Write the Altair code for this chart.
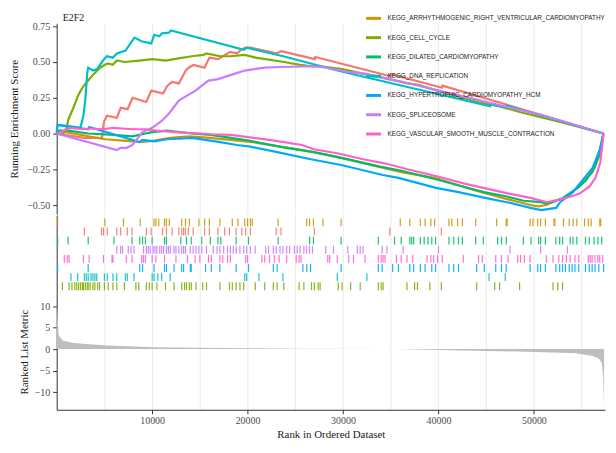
import altair as alt
import pandas as pd

X_MAX = 57450
GRID_VALUES = [5000, 10000, 15000, 20000, 25000, 30000, 35000, 40000, 45000, 50000, 55000]

SET_NAMES = [
    "UNLABELLED_SET",
    "KEGG_ARRHYTHMOGENIC_RIGHT_VENTRICULAR_CARDIOMYOPATHY",
    "KEGG_CELL_CYCLE",
    "KEGG_DILATED_CARDIOMYOPATHY",
    "KEGG_DNA_REPLICATION",
    "KEGG_HYPERTROPHIC_CARDIOMYOPATHY_HCM",
    "KEGG_SPLICEOSOME",
    "KEGG_VASCULAR_SMOOTH_MUSCLE_CONTRACTION",
]
SET_COLORS = ["#F8766D", "#CD9600", "#7CAE00", "#00BE67", "#00BFC4", "#00A9FF", "#C77CFF", "#FF61CC"]
LEGEND_NAMES = SET_NAMES[1:]
RUG_ORDER = [SET_NAMES[1], SET_NAMES[0], SET_NAMES[3], SET_NAMES[6], SET_NAMES[7], SET_NAMES[5], SET_NAMES[4], SET_NAMES[2]]

# running enrichment score curves (rank, score)
ES_UNLABELLED_RANK = [0, 2890, 4750, 4950, 5260, 6300, 6710, 7430, 7950, 9390, 9910, 11150, 11560, 12070, 12800, 13520, 13830, 14340, 15480, 16000, 16920, 17650, 18160, 18890, 19400, 19810, 20330, 23010, 23530, 27040, 27100, 34980, 35050, 40350, 40420, 57280]
ES_UNLABELLED = [0, -0.03, -0.03, 0.08, 0.125, 0.11, 0.18, 0.17, 0.25, 0.22, 0.30, 0.28, 0.33, 0.36, 0.35, 0.44, 0.46, 0.48, 0.46, 0.53, 0.52, 0.55, 0.57, 0.56, 0.59, 0.60, 0.60, 0.56, 0.575, 0.52, 0.535, 0.40, 0.415, 0.32, 0.335, 0]

ES_ARRHYTH_RANK = [0, 100, 5060, 7020, 8770, 10220, 11870, 13930, 16000, 18990, 20540, 23220, 26940, 29820, 36120, 39630, 42520, 43960, 46130, 47270, 49640, 50460, 51290, 52330, 53150, 54590, 55420, 56140, 57070, 57280]
ES_ARRHYTH = [0, 0.02, -0.04, -0.05, -0.06, -0.05, -0.03, -0.02, -0.03, -0.05, -0.06, -0.09, -0.13, -0.17, -0.27, -0.31, -0.37, -0.40, -0.44, -0.46, -0.50, -0.51, -0.50, -0.47, -0.45, -0.38, -0.32, -0.27, -0.12, 0]

ES_CELLCYCLE_RANK = [0, 620, 1030, 1240, 1750, 2270, 2790, 3300, 3820, 4540, 5060, 5370, 5880, 6300, 7120, 8670, 10010, 11460, 12280, 14140, 15380, 15690, 17130, 18160, 19710, 20850, 21880, 23840, 25490, 26730, 27660, 29930, 31890, 34260, 36740, 37870, 40350, 44070, 46440, 48510, 53050, 57280]
ES_CELLCYCLE = [0, -0.01, 0.04, 0.10, 0.18, 0.27, 0.33, 0.37, 0.41, 0.46, 0.48, 0.49, 0.48, 0.51, 0.50, 0.51, 0.52, 0.51, 0.52, 0.54, 0.55, 0.56, 0.54, 0.54, 0.55, 0.53, 0.52, 0.50, 0.48, 0.47, 0.47, 0.45, 0.42, 0.39, 0.35, 0.34, 0.29, 0.22, 0.19, 0.15, 0.075, 0]

ES_DILATED_RANK = [0, 100, 1240, 3300, 5990, 7950, 9290, 10010, 11560, 14140, 16100, 17230, 20120, 23220, 26940, 29820, 33750, 36120, 39730, 42520, 44790, 47160, 48920, 50770, 51290, 52330, 53040, 54590, 55420, 56350, 56760, 57280]
ES_DILATED = [0, 0.02, 0.02, 0.0, -0.01, -0.02, 0.0, 0.01, 0.02, 0.0, -0.01, -0.02, -0.05, -0.09, -0.13, -0.17, -0.23, -0.26, -0.32, -0.37, -0.41, -0.44, -0.47, -0.48, -0.49, -0.47, -0.45, -0.38, -0.33, -0.24, -0.16, 0]

ES_DNAREP_RANK = [0, 1450, 2480, 2790, 2990, 3200, 3300, 3820, 4230, 4850, 5260, 5880, 6300, 7220, 7430, 8150, 8880, 9910, 10220, 10730, 11040, 11770, 11970, 19610, 19920, 21260, 23740, 29410, 32610, 45410, 45510, 47060, 47160, 57280]
ES_DNAREP = [0.06, 0.05, 0.04, 0.12, 0.23, 0.42, 0.46, 0.44, 0.45, 0.51, 0.54, 0.53, 0.56, 0.58, 0.60, 0.67, 0.645, 0.63, 0.69, 0.68, 0.70, 0.705, 0.72, 0.585, 0.60, 0.578, 0.54, 0.44, 0.39, 0.19, 0.205, 0.18, 0.195, 0]

ES_HYPERTROPHIC_RANK = [0, 100, 3300, 3410, 8670, 8980, 10220, 11560, 13310, 14140, 15580, 17130, 18890, 20120, 23120, 26630, 29820, 34160, 35810, 39730, 42110, 44890, 47160, 49640, 50770, 51290, 52330, 52740, 53360, 54080, 54800, 55420, 56140, 56450, 56970, 57280]
ES_HYPERTROPHIC = [0, 0.06, 0.03, 0.045, -0.06, -0.045, -0.055, -0.04, -0.035, -0.03, -0.045, -0.06, -0.08, -0.09, -0.13, -0.18, -0.22, -0.29, -0.31, -0.38, -0.41, -0.45, -0.48, -0.52, -0.535, -0.53, -0.52, -0.48, -0.45, -0.41, -0.35, -0.30, -0.24, -0.19, -0.10, 0]

ES_SPLICEOSOME_RANK = [0, 6300, 6710, 7330, 7950, 8980, 10010, 11040, 11760, 12800, 13520, 14550, 15890, 16920, 18270, 19710, 21780, 23430, 26940, 28280, 30550, 32200, 34680, 36330, 40040, 47580, 50770, 53560, 57280]
ES_SPLICEOSOME = [0, -0.115, -0.10, -0.10, -0.08, 0.01, 0.04, 0.09, 0.14, 0.23, 0.26, 0.30, 0.37, 0.38, 0.41, 0.44, 0.46, 0.465, 0.47, 0.46, 0.43, 0.42, 0.38, 0.36, 0.30, 0.18, 0.13, 0.075, 0]

ES_VASCULAR_RANK = [0, 830, 1340, 2790, 3410, 4950, 5880, 7950, 9290, 10420, 12490, 15070, 16200, 18270, 20020, 22810, 25700, 26940, 29520, 32100, 34470, 36740, 39940, 42720, 44690, 47370, 49640, 51390, 52740, 53870, 54800, 55830, 56450, 56970, 57280]
ES_VASCULAR = [0, 0.02, 0.04, 0.03, 0.035, 0.03, 0.04, 0.03, 0.03, 0.02, 0.01, 0.0, -0.005, -0.01, -0.025, -0.05, -0.08, -0.11, -0.14, -0.18, -0.21, -0.25, -0.30, -0.35, -0.38, -0.42, -0.45, -0.48, -0.46, -0.44, -0.42, -0.37, -0.31, -0.20, 0]

# gene set hit positions (ranks)
HITS_UNLABELLED = [2900, 4700, 4900, 5300, 6300, 6700, 7400, 7900, 9400, 9900, 11100, 11500, 12100, 12800, 13100, 13300, 13500, 13800, 14300, 15500, 16000, 16900, 17600, 18100, 18800, 19400, 19800, 20300, 23000, 23500, 27000, 34900, 40300]
HITS_ARRHYTH = [100, 5050, 7000, 8750, 10200, 10400, 10700, 11300, 11500, 11800, 13100, 13500, 13900, 14900, 15500, 16000, 17100, 18400, 19000, 19700, 20000, 20300, 20500, 23200, 26200, 26500, 26900, 27900, 29800, 36000, 37000, 38100, 38600, 39200, 39600, 41100, 41400, 42000, 42500, 43900, 46100, 47100, 47200, 49600, 49900, 50400, 50700, 51200, 52100, 52200, 53100, 53700, 54100, 54500, 55300, 55700, 56000, 56900, 57000]
HITS_CELLCYCLE = [600, 1300, 1600, 1900, 2100, 2300, 2500, 2700, 2800, 3000, 3200, 3300, 3500, 3800, 4000, 4300, 4500, 5000, 5400, 5900, 6300, 7100, 8300, 8600, 9400, 9700, 10000, 10500, 11400, 12300, 13100, 13400, 13600, 13900, 14100, 14600, 15300, 15700, 17100, 18100, 18400, 18800, 19200, 19600, 20800, 21800, 22700, 23100, 23800, 25400, 25900, 26700, 27000, 27400, 27600, 29500, 29900, 30800, 31800, 33700, 34000, 34200, 36700, 37500, 37800, 39100, 40300, 44000, 45900, 46400, 48500, 52000, 52500, 53000]
HITS_DILATED = [100, 1200, 3300, 6000, 7900, 8700, 9000, 9300, 10000, 11300, 11500, 13000, 13600, 14100, 15200, 16100, 16900, 17200, 18800, 20100, 23200, 26500, 26900, 29800, 33700, 35400, 36100, 37000, 37200, 37400, 38100, 38500, 38900, 39300, 39700, 41100, 41600, 42100, 42500, 43900, 44700, 46200, 46600, 47100, 48900, 49700, 50500, 50700, 51200, 52300, 52700, 53000, 53800, 54100, 54500, 55400, 55800, 56300, 56700, 57100]
HITS_DNAREP = [1500, 2200, 2900, 3100, 3300, 3600, 3800, 4000, 4200, 5000, 5300, 5900, 6300, 7200, 7400, 8100, 10000, 10200, 10600, 11000, 11900, 19700, 19900, 21200, 23700, 29400, 32500, 45300, 47000]
HITS_HYPERTROPHIC = [100, 3300, 8700, 9000, 10200, 11300, 11500, 12300, 13100, 13300, 14000, 14100, 15600, 16200, 17100, 18800, 20100, 22700, 23100, 25800, 26200, 26600, 29800, 33700, 34100, 35200, 35800, 37000, 37400, 38100, 38600, 39300, 39700, 41100, 41600, 42100, 44000, 44800, 46000, 46600, 47100, 49600, 50400, 50700, 51200, 52300, 52700, 53000, 53300, 53700, 54000, 54300, 54700, 55400, 55800, 56100, 56400, 56800, 57300]
HITS_SPLICEOSOME = [6300, 6700, 6900, 7500, 7800, 8100, 9100, 9400, 9600, 9800, 10100, 10300, 10500, 10800, 11000, 11200, 11500, 11700, 11900, 12300, 12500, 12800, 13100, 13300, 13500, 14000, 14300, 14600, 14900, 15200, 15700, 16400, 16800, 17100, 17500, 17900, 18200, 18500, 18800, 19200, 19600, 19900, 20300, 20800, 21900, 22200, 22700, 23000, 23400, 23700, 24100, 24400, 24900, 25200, 25500, 25900, 26200, 26500, 26800, 28200, 29000, 30500, 31500, 31800, 32100, 34100, 34600, 36300, 40000, 47500, 50700, 53500]
HITS_VASCULAR = [800, 1100, 1300, 2800, 3400, 4900, 5800, 5900, 7300, 7900, 8900, 9100, 9300, 10000, 10400, 11300, 12500, 13700, 14500, 15000, 15900, 16200, 17100, 17400, 17900, 18200, 19800, 20000, 21500, 21800, 22300, 22800, 23300, 24100, 25100, 25400, 25600, 28400, 28600, 29400, 30600, 31100, 32300, 33700, 34000, 34200, 34400, 35600, 36100, 36700, 37300, 38800, 39200, 39500, 39900, 40400, 42600, 44200, 44600, 46000, 46600, 47300, 48300, 48600, 49000, 49600, 51300, 52000, 52600, 53000, 53400, 53800, 54300, 54700, 55700, 55900, 56100, 56400, 56700, 56900, 57200]

# ranked list metric
METRIC_RANK = [0, 100, 210, 620, 1750, 4850, 10010, 20020, 25180, 35500, 42420, 49230, 54390, 56140, 56800, 57100, 57250, 57350]
METRIC_VALUE = [10.5, 7.4, 3.2, 2.0, 1.4, 0.9, 0.45, 0.2, 0.1, 0.0, -0.35, -0.6, -1.0, -1.6, -2.2, -3.2, -6.0, -14.0]

es_pairs = [
    (SET_NAMES[0], ES_UNLABELLED_RANK, ES_UNLABELLED),
    (SET_NAMES[1], ES_ARRHYTH_RANK, ES_ARRHYTH),
    (SET_NAMES[2], ES_CELLCYCLE_RANK, ES_CELLCYCLE),
    (SET_NAMES[3], ES_DILATED_RANK, ES_DILATED),
    (SET_NAMES[4], ES_DNAREP_RANK, ES_DNAREP),
    (SET_NAMES[5], ES_HYPERTROPHIC_RANK, ES_HYPERTROPHIC),
    (SET_NAMES[6], ES_SPLICEOSOME_RANK, ES_SPLICEOSOME),
    (SET_NAMES[7], ES_VASCULAR_RANK, ES_VASCULAR),
]
es_rows = []
for name, ranks, scores in es_pairs:
    for r, s in zip(ranks, scores):
        es_rows.append({"set": name, "rank": r, "es": s})
es_df = pd.DataFrame(es_rows)

hit_pairs = [
    (SET_NAMES[0], HITS_UNLABELLED), (SET_NAMES[1], HITS_ARRHYTH), (SET_NAMES[2], HITS_CELLCYCLE),
    (SET_NAMES[3], HITS_DILATED), (SET_NAMES[4], HITS_DNAREP), (SET_NAMES[5], HITS_HYPERTROPHIC),
    (SET_NAMES[6], HITS_SPLICEOSOME), (SET_NAMES[7], HITS_VASCULAR),
]
rug_df = pd.DataFrame([{"set": n, "rank": r} for n, hits in hit_pairs for r in hits])
metric_df = pd.DataFrame({"rank": METRIC_RANK, "metric": METRIC_VALUE})

SERIF = "Liberation Serif"
PANEL_W = 552
x_scale = alt.Scale(domain=[0, X_MAX], nice=False, zero=False)
color_scale = alt.Scale(domain=SET_NAMES, range=SET_COLORS)
hidden_x_axis = alt.Axis(values=GRID_VALUES, labels=False, ticks=False, domain=False, title=None, grid=True)

top = alt.Chart(es_df).mark_line(strokeWidth=2.2).encode(
    x=alt.X("rank:Q", scale=x_scale, axis=hidden_x_axis),
    y=alt.Y("es:Q", scale=alt.Scale(domain=[-0.563, 0.77], nice=False, zero=False),
            axis=alt.Axis(values=[-0.5, -0.25, 0, 0.25, 0.5, 0.75], format=".2f",
                          title="Running Enrichment Score", grid=False, titlePadding=7)),
    color=alt.Color("set:N", scale=color_scale,
                    legend=alt.Legend(values=LEGEND_NAMES, title=None, orient="none",
                                      legendX=310, legendY=-14, symbolType="stroke",
                                      symbolStrokeWidth=3, symbolSize=225, labelFont="Liberation Sans",
                                      labelFontSize=6.4, labelColor="#222222", labelLimit=400,
                                      labelOffset=5, rowPadding=4.4, padding=0)),
).properties(width=PANEL_W, height=192,
             title=alt.TitleParams("E2F2", anchor="start", fontSize=10, font=SERIF, frame="group",
                                   fontWeight="normal", color="#1A1A1A", offset=-2, dx=6))

rug = alt.Chart(rug_df).mark_tick(thickness=1.2, size=8, opacity=0.9).encode(
    x=alt.X("rank:Q", scale=x_scale, axis=hidden_x_axis),
    y=alt.Y("set:N", sort=RUG_ORDER, scale=alt.Scale(type="point", domain=RUG_ORDER, padding=0.8),
            axis=alt.Axis(labels=False, ticks=False, title=None, grid=False)),
    color=alt.Color("set:N", scale=color_scale, legend=None),
).properties(width=PANEL_W, height=79)

bottom = alt.Chart(metric_df).mark_area(color="#BEBEBE").encode(
    x=alt.X("rank:Q", scale=x_scale,
            axis=alt.Axis(values=GRID_VALUES, format="d", grid=True,
                          labelExpr="datum.value % 10000 === 0 ? datum.label : ''",
                          tickColor={"condition": {"test": "datum.value % 10000 === 0", "value": "#333333"},
                                     "value": "transparent"},
                          title="Rank in Ordered Dataset", labelPadding=2, titlePadding=3)),
    y=alt.Y("metric:Q", scale=alt.Scale(domain=[-14.1, 12.9], nice=False, zero=False),
            axis=alt.Axis(values=[-10, -5, 0, 5, 10], title="Ranked List Metric", grid=False, titlePadding=5)),
).properties(width=PANEL_W, height=117)

chart = alt.vconcat(top, rug, bottom, spacing=0).configure(
    padding={"left": 0, "top": 0, "right": 0, "bottom": 0}
).configure_view(stroke=None).configure_axis(
    labelFont=SERIF, titleFont=SERIF, labelFontSize=10, titleFontSize=11,
    titleFontWeight="normal", labelColor="#4D4D4D", titleColor="#1A1A1A",
    domainColor="#333333", tickColor="#333333", gridColor="#EBEBEB", gridWidth=1,
    tickSize=4, labelPadding=3,
)

chart.save("out.html", embed_options={"renderer": "svg", "actions": False})
